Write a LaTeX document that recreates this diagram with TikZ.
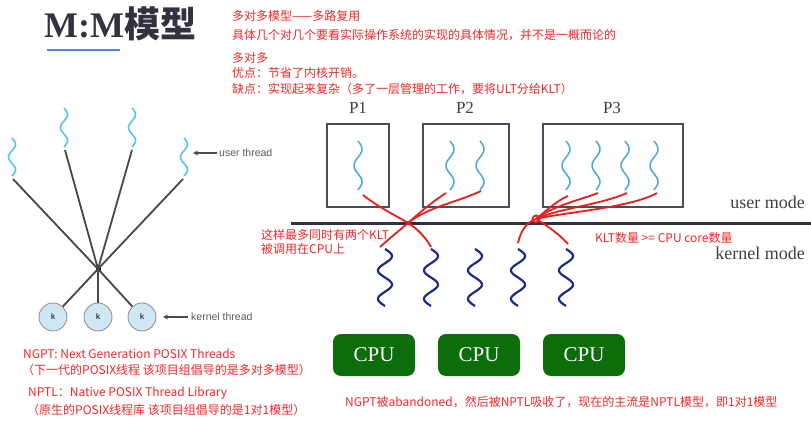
\documentclass[tikz,border=0pt]{standalone}
\usepackage{fontspec}
\setmainfont{Liberation Serif}
\newfontfamily\cjk{Noto Sans CJK SC}
\newfontfamily\lsans{Liberation Sans}
\usetikzlibrary{arrows.meta}
\definecolor{redtxt}{HTML}{F02828}
\definecolor{redline}{HTML}{E81E1E}
\definecolor{ublue}{HTML}{55C4EC}
\definecolor{pblue}{HTML}{4AA8D4}
\definecolor{kblue}{HTML}{1A2A8C}
\definecolor{cpugreen}{HTML}{0B6E0B}
\definecolor{darkline}{HTML}{2E3140}
\definecolor{boxline}{HTML}{4A4D5A}
\definecolor{titlecol}{HTML}{333340}
\definecolor{ulblue}{HTML}{4A86E8}
\definecolor{kfill}{HTML}{CFE6F5}
\newcommand\mywave[6]{\draw[#6] plot[domain=0:#3,samples=60,smooth,variable=\t] ({#1+#4*sin(\t/#3*360*#5)},{#2+\t});}
\begin{document}
\begin{tikzpicture}[x=1pt,y=-1pt,
  redt/.style={anchor=west,inner sep=0pt,text=redtxt,font=\cjk\fontsize{12}{14}\selectfont},
  lline/.style={draw=black!72,line width=1.8pt},
  kcirc/.style={circle,draw=black!45,line width=0.8pt,fill=kfill,minimum size=28pt,inner sep=0pt,font=\lsans\bfseries\fontsize{8}{9}\selectfont,text=black!75},
  lbl/.style={anchor=west,inner sep=0pt,font=\lsans\fontsize{10.5}{12}\selectfont,text=black!65},
  pbox/.style={draw=boxline,line width=1.6pt,inner sep=0pt},
  plabel/.style={font=\fontsize{17}{19}\selectfont,text=black!75,inner sep=0pt},
  modelbl/.style={font=\fontsize{18}{20}\selectfont,text=black!75,inner sep=0pt,anchor=east},
  redc/.style={draw=redline,line width=1.8pt},
  cpubox/.style={fill=cpugreen,rounded corners=8pt,minimum width=82pt,minimum height=42pt,text=white,font=\fontsize{21}{24}\selectfont,inner sep=0pt},
  ut/.style={draw=ublue,line width=1.6pt},
  pt/.style={draw=pblue,line width=1.5pt},
  kt/.style={draw=kblue,line width=2.2pt}
]
\useasboundingbox (0,0) rectangle (811,425);

% title
\node[anchor=west,inner sep=0pt,text=titlecol] (title) at (44,24) {\fontsize{36}{40}\selectfont\bfseries M:M{\cjk\bfseries 模型}};
\coordinate (ul1) at (47,50);
\coordinate (ul2) at (120,50);
\draw[ulblue,line width=2.5pt] (ul1) -- (ul2);

% top red text
\node[redt] (t1) at (232,16) {多对多模型——多路复用};
\node[redt] (t2) at (232,35) {具体几个对几个要看实际操作系统的实现的具体情况，并不是一概而论的};
\node[redt] (t3) at (232,58) {多对多};
\node[redt] (t4) at (232,73) {优点：节省了内核开销。};
\node[redt] (t5) at (232,89) {缺点：实现起来复杂（多了一层管理的工作，要将ULT分给KLT）};

% left diagram
\mywave{12}{138}{38}{3.5}{1.5}{ut}
\mywave{64}{108}{39}{3.5}{1.5}{ut}
\mywave{132}{108}{39}{3.5}{1.5}{ut}
\mywave{184}{138}{38}{3.5}{1.5}{ut}
\coordinate (u1) at (13,179);
\coordinate (u2) at (65,150);
\coordinate (u3) at (132,150);
\coordinate (u4) at (183,179);
\node[fill=black,minimum size=5pt,inner sep=0pt] (hub) at (98,269) {};
\node[kcirc] (k1) at (53,317) {k};
\node[kcirc] (k2) at (98,317) {k};
\node[kcirc] (k3) at (142,317) {k};
\foreach \u in {u1,u2,u3,u4} \draw[lline] (\u) -- (hub.center);
\foreach \k in {k1,k2,k3} \draw[lline] (hub.center) -- (\k);
\node[lbl] (ulab) at (219,153) {user thread};
\coordinate (uarr) at (193,153);
\draw[black!70,line width=1.3pt,-{Stealth[length=5pt,width=5pt]}] (ulab.west) ++(-2,0) -- (uarr);
\node[lbl] (klab) at (191,317) {kernel thread};
\coordinate (karr) at (163,317);
\draw[black!70,line width=1.3pt,-{Stealth[length=5pt,width=5pt]}] (klab.west) ++(-3,0) -- (karr);

% right diagram
\node[plabel] (P1) at (358,108) {P1};
\node[plabel] (P2) at (465,108) {P2};
\node[plabel] (P3) at (612,108) {P3};
\node[pbox,minimum width=62pt,minimum height=83pt] (b1) at (358,165.5) {};
\node[pbox,minimum width=86pt,minimum height=83pt] (b2) at (466,165.5) {};
\node[pbox,minimum width=140pt,minimum height=83pt] (b3) at (613,165.5) {};
\mywave{358}{141}{49}{4}{1.5}{pt}
\mywave{450}{141}{49}{4}{1.5}{pt}
\mywave{480}{141}{49}{4}{1.5}{pt}
\mywave{566}{141}{49}{4}{1.5}{pt}
\mywave{596}{141}{49}{4}{1.5}{pt}
\mywave{625}{141}{49}{4}{1.5}{pt}
\mywave{654}{141}{49}{4}{1.5}{pt}

\coordinate (hl) at (291,223);
\coordinate (hr) at (811,223);
\draw[darkline,line width=3pt] (hl) -- (hr);
\node[modelbl] (um) at (805,202) {user mode};
\node[modelbl] (km) at (805,253) {kernel mode};

% kernel threads
\mywave{385}{249}{57}{7}{2}{kt}
\mywave{431}{249}{57}{7}{2}{kt}
\mywave{475}{249}{57}{7}{2}{kt}
\mywave{518}{249}{57}{7}{2}{kt}
\mywave{566}{249}{57}{7}{2}{kt}

% red mapping curves
\coordinate (c1) at (408,223);
\coordinate (p1t) at (363,195);
\coordinate (ka) at (380,247);
\coordinate (kb) at (431,247);
\coordinate (p2a) at (446,193);
\coordinate (p2b) at (481,191);
\draw[redc] (p1t) .. controls (378,207) and (395,215) .. (c1) .. controls (418,229) and (426,238) .. (kb);
\draw[redc] (ka) .. controls (390,238) and (400,230) .. (c1) .. controls (420,212) and (435,200) .. (p2a);
\draw[redc] (c1) .. controls (428,207) and (455,203) .. (p2b);
\fill[redline] (c1) circle (2.2pt);

\coordinate (c2) at (536,219);
\coordinate (kc) at (518,243);
\coordinate (kd) at (568,244);
\coordinate (p3a) at (568,196);
\coordinate (p3b) at (598,193);
\coordinate (p3c) at (627,193);
\coordinate (p3d) at (657,193);
\draw[redc] (kc) .. controls (521,230) and (527,222) .. (c2) .. controls (547,210) and (558,200) .. (p3a);
\draw[redc] (c2) .. controls (548,226) and (560,235) .. (kd);
\draw[redc] (c2) .. controls (555,205) and (580,200) .. (p3b);
\draw[redc] (c2) .. controls (560,208) and (600,205) .. (p3c);
\draw[redc] (c2) .. controls (565,212) and (630,208) .. (p3d);
\draw[redc] (c2) circle (3.5pt);

\node[redt] (r1) at (261,235) {这样最多同时有两个KLT};
\node[redt] (r2) at (261,249) {被调用在CPU上};
\node[redt] (r3) at (595,238) {KLT数量 >= CPU core数量};

% CPUs
\node[cpubox] (cpu1) at (374,355) {CPU};
\node[cpubox] (cpu2) at (479,355) {CPU};
\node[cpubox] (cpu3) at (584,355) {CPU};

% bottom text
\node[redt] (n1) at (23,354) {NGPT: Next Generation POSIX Threads};
\node[redt] (n2) at (22,370) {（下一代的POSIX线程 该项目组倡导的是多对多模型）};
\node[redt] (n3) at (28,393) {NPTL：Native POSIX Thread Library};
\node[redt] (n4) at (27,410) {（原生的POSIX线程库 该项目组倡导的是1对1模型）};
\node[redt] (n5) at (345,402) {NGPT被abandoned，然后被NPTL吸收了，现在的主流是NPTL模型，即1对1模型};
\end{tikzpicture}
\end{document}
